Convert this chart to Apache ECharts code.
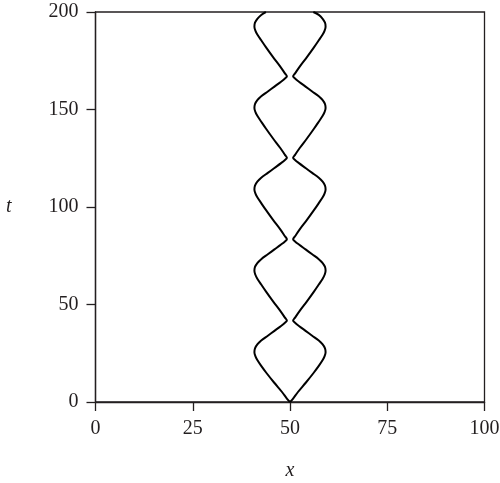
<!DOCTYPE html>
<html>
<head>
<meta charset="utf-8">
<script src="https://cdn.jsdelivr.net/npm/echarts@6/dist/echarts.min.js"></script>
<style>html,body{margin:0;padding:0;background:#fff}#c{width:500px;height:483px}</style>
</head>
<body>
<div id="c"></div>
<script>
// time values (vertical axis)
const tValues = [
  0, 1.5, 5, 10, 15, 18.5, 21.5, 23.5, 25.5, 27.5, 29.5, 31.5, 34, 36.5, 39, 40.6,
  41.75, 43.25, 46.75, 51.75, 56.75, 60.25, 63.25, 65.25, 67.25, 69.25, 71.25, 73.25, 75.75, 78.25, 80.75, 82.35,
  83.5, 85, 88.5, 93.5, 98.5, 102, 105, 107, 109, 111, 113, 115, 117.5, 120, 122.5, 124.1,
  125.25, 126.75, 130.25, 135.25, 140.25, 143.75, 146.75, 148.75, 150.75, 152.75, 154.75, 156.75, 159.25, 161.75, 164.25, 165.85,
  167, 168.5, 172, 177, 182, 185.5, 188.5, 190.5, 192.5, 194.5, 196.5, 198.5, 200
];
// left curve x positions
const leftX = [
  50, 49.3, 48.0, 45.9, 43.9, 42.6, 41.6, 41.1, 40.85, 41.0, 41.6, 42.6, 44.3, 46.0, 47.7, 48.7,
  49.2, 48.7, 47.5, 45.6, 43.8, 42.6, 41.6, 41.1, 40.85, 41.0, 41.6, 42.6, 44.3, 46.0, 47.7, 48.7,
  49.2, 48.7, 47.5, 45.6, 43.8, 42.6, 41.6, 41.1, 40.85, 41.0, 41.6, 42.6, 44.3, 46.0, 47.7, 48.7,
  49.2, 48.7, 47.5, 45.6, 43.8, 42.6, 41.6, 41.1, 40.85, 41.0, 41.6, 42.6, 44.3, 46.0, 47.7, 48.7,
  49.2, 48.7, 47.5, 45.6, 43.8, 42.6, 41.6, 41.1, 40.85, 41.0, 41.6, 42.6, 43.8
];
// right curve x positions
const rightX = [
  50, 50.7, 52.0, 54.1, 56.1, 57.4, 58.4, 58.9, 59.15, 59.0, 58.4, 57.4, 55.7, 54.0, 52.3, 51.3,
  50.8, 51.3, 52.5, 54.4, 56.2, 57.4, 58.4, 58.9, 59.15, 59.0, 58.4, 57.4, 55.7, 54.0, 52.3, 51.3,
  50.8, 51.3, 52.5, 54.4, 56.2, 57.4, 58.4, 58.9, 59.15, 59.0, 58.4, 57.4, 55.7, 54.0, 52.3, 51.3,
  50.8, 51.3, 52.5, 54.4, 56.2, 57.4, 58.4, 58.9, 59.15, 59.0, 58.4, 57.4, 55.7, 54.0, 52.3, 51.3,
  50.8, 51.3, 52.5, 54.4, 56.2, 57.4, 58.4, 58.9, 59.15, 59.0, 58.4, 57.4, 56.0
];
const xTicks = [0, 25, 50, 75, 100];
const tTicks = [0, 50, 100, 150, 200];

const chart = echarts.init(document.getElementById('c'), null, {renderer: 'canvas'});
const font = 'Liberation Serif';
const ink = '#231f20';
const axisCommon = {
  axisLine: {show: true, lineStyle: {color: ink, width: 1.3}},
  axisTick: {show: true, inside: false, length: 9, lineStyle: {color: ink, width: 1.3}},
  splitLine: {show: false},
  axisLabel: {color: ink, fontFamily: font, fontSize: 20, margin: 17},
  nameTextStyle: {color: ink, fontFamily: font, fontSize: 20, fontStyle: 'italic'}
};
chart.setOption({
  animation: false,
  backgroundColor: '#fff',
  grid: {left: 95.5, right: 15.5, top: 12, bottom: 81, show: true, borderColor: ink, borderWidth: 1.3,
         backgroundColor: 'transparent', containLabel: false, outerBoundsMode: 'none'},
  xAxis: Object.assign({}, axisCommon, {
    type: 'value', min: xTicks[0], max: xTicks[xTicks.length - 1], interval: 25,
    name: 'x', nameLocation: 'middle', nameGap: 59
  }),
  yAxis: Object.assign({}, axisCommon, {
    type: 'value', min: tTicks[0], max: tTicks[tTicks.length - 1], interval: 50,
    name: 't', nameLocation: 'middle', nameGap: 84, nameRotate: 0
  }),
  series: [
    {type: 'line', data: tValues.map((t, i) => [leftX[i], t]), showSymbol: false, smooth: 0.35,
     lineStyle: {color: '#000', width: 2}},
    {type: 'line', data: tValues.map((t, i) => [rightX[i], t]), showSymbol: false, smooth: 0.35,
     lineStyle: {color: '#000', width: 2}}
  ]
});
</script>
</body>
</html>
